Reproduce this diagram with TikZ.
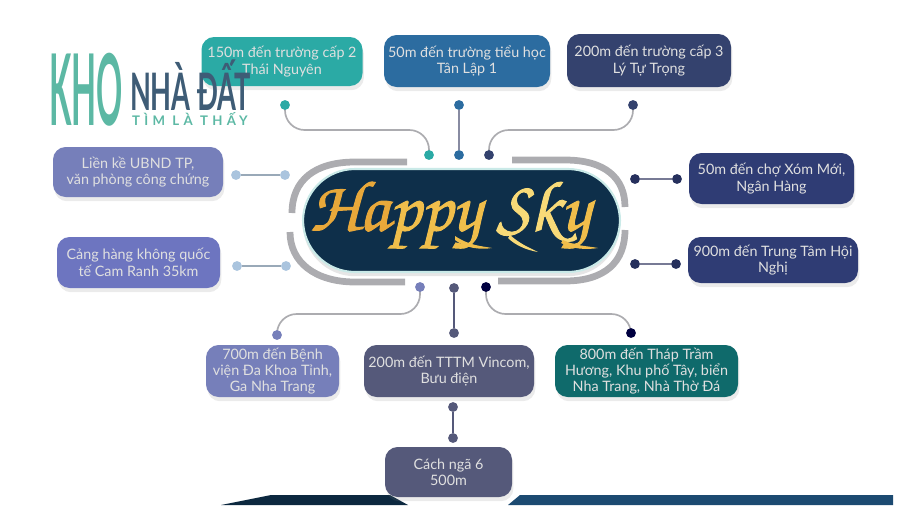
\documentclass[tikz,border=0pt]{standalone}
\usepackage{fontspec}
\setmainfont{Lato}
\usetikzlibrary{positioning, calc, shadows, backgrounds}
\definecolor{tealbox}{RGB}{43, 170, 165}
\definecolor{bluebox}{RGB}{44, 108, 160}
\definecolor{navybox}{RGB}{52, 66, 110}
\definecolor{lilacbox}{RGB}{118, 127, 186}
\definecolor{indigobox}{RGB}{47, 60, 116}
\definecolor{slatebox}{RGB}{85, 89, 122}
\definecolor{pinebox}{RGB}{15, 106, 107}
\definecolor{pillblue}{RGB}{14, 47, 74}
\definecolor{ringgray}{RGB}{172, 172, 176}
\definecolor{logoteal}{RGB}{92, 184, 164}
\definecolor{logoslate}{RGB}{62, 92, 118}
\definecolor{palelink}{RGB}{170, 196, 222}
\definecolor{goldone}{RGB}{232, 168, 58}
\definecolor{goldtwo}{RGB}{240, 190, 75}
\definecolor{goldthree}{RGB}{248, 218, 120}
\newcommand{\goldtext}[2]{\textcolor{#1}{#2}}
\tikzset{
  infobox/.style={rounded corners=9pt, text=white!88!black, align=center, inner sep=0pt,
    font=\fontsize{10.2}{11.6}\selectfont, drop shadow={opacity=.16, shadow xshift=1pt, shadow yshift=-3pt}},
  linkdot/.style={circle, minimum size=7pt, inner sep=0pt, fill=#1},
  link/.style={draw=#1, line width=1.2pt, rounded corners=14pt},
  ringarc/.style={draw=ringgray, line width=4.8pt},
}
\begin{document}
\begin{tikzpicture}[x=0.025cm, y=-0.025cm]
  \useasboundingbox (0, 0) rectangle (900, 521);

  % strip behind the last box
  \fill[pillblue!85!black] (221, 505) -- (271, 495) -- (390, 495) -- (408, 505) -- cycle;
  \fill[bluebox!45!pillblue] (508, 505) -- (520, 495) -- (893, 495) -- (893, 505) -- cycle;

  % centre
  \node[fill=pillblue, draw=tealbox!25!white, line width=1.5pt, rounded corners=37pt, minimum width=317*0.025cm, minimum height=103*0.025cm,
    drop shadow={opacity=.2, shadow xshift=0pt, shadow yshift=-3pt}] (pill) at (461.5, 220.5) {};
  \node[font=\fontfamily{pzc}\fontencoding{T1}\selectfont\fontsize{51}{51}\selectfont] (title) at (450, 216) {%
    \special{pdf:code 2 Tr 0.7 w}\goldtext{goldone}{H}\goldtext{goldone}{a}\goldtext{goldtwo}{p}\goldtext{goldtwo}{p}\goldtext{goldtwo}{y} \goldtext{goldthree}{S}\goldtext{goldthree}{k}\goldtext{goldtwo}{y}\special{pdf:code 0 Tr}};
  \fill[goldtwo] (455, 236) .. controls (470, 246) and (482, 246) .. (492, 248) .. controls (480, 250) and (465, 248) .. (455, 240) -- cycle;
  \fill[goldthree] (510, 235) .. controls (520, 244) and (530, 248) .. (538, 252) .. controls (526, 250) and (515, 245) .. (508, 238) -- cycle;
  \fill[goldtwo] (563, 240) .. controls (575, 246) and (588, 246) .. (598, 248) .. controls (586, 250) and (572, 249) .. (561, 243) -- cycle;

  \draw[ringarc] (407, 162) -- (355, 162) .. controls (315, 162) and (292, 180) .. (292, 213);
  \draw[ringarc] (512, 160) -- (565, 160) .. controls (605, 160) and (625, 178) .. (625, 207);
  \draw[ringarc] (290, 232) .. controls (290, 262) and (315, 282) .. (355, 282) -- (405, 282);
  \draw[ringarc] (625, 230) .. controls (625, 262) and (605, 281) .. (565, 281) -- (498, 281);

  % boxes
  \node[infobox, fill=tealbox, minimum width=161*0.025cm, minimum height=49*0.025cm] (school2) at (282, 61.5) {150m đến trường cấp 2\\Thái Nguyên};
  \node[infobox, fill=bluebox, minimum width=166*0.025cm, minimum height=52*0.025cm] (primary) at (467, 61) {50m đến trường tiểu học\\Tân Lập 1};
  \node[infobox, fill=navybox, minimum width=164*0.025cm, minimum height=53*0.025cm] (school3) at (649, 60.5) {200m đến trường cấp 3\\Lý Tự Trọng};
  \node[infobox, fill=lilacbox, minimum width=170*0.025cm, minimum height=50*0.025cm] (office) at (138, 172) {Liền kề UBND TP,\\văn phòng công chứng};
  \node[infobox, fill=lilacbox!92!blue, minimum width=163*0.025cm, minimum height=51*0.025cm] (airport) at (138.5, 262.5) {Cảng hàng không quốc\\tế Cam Ranh 35km};
  \node[infobox, fill=indigobox, minimum width=165*0.025cm, minimum height=51*0.025cm] (market) at (771.5, 178.5) {50m đến chợ Xóm Mới,\\Ngân Hàng};
  \node[infobox, fill=indigobox, minimum width=170*0.025cm, minimum height=46*0.025cm] (hall) at (773, 260) {900m đến Trung Tâm Hội\\Nghị};
  \node[infobox, fill=lilacbox, minimum width=133*0.025cm, minimum height=52*0.025cm] (hospital) at (272.5, 371) {700m đến Bệnh\\viện Đa Khoa Tỉnh,\\Ga Nha Trang};
  \node[infobox, fill=slatebox, minimum width=170*0.025cm, minimum height=52*0.025cm] (vincom) at (449, 371) {200m đến TTTM Vincom,\\Bưu điện};
  \node[infobox, fill=pinebox, minimum width=183*0.025cm, minimum height=52*0.025cm] (tower) at (646.5, 371) {800m đến Tháp Trầm\\Hương, Khu phố Tây, biển\\Nha Trang, Nhà Thờ Đá};
  \node[infobox, fill=slatebox, minimum width=127*0.025cm, minimum height=50*0.025cm] (junction) at (448.5, 472) {Cách ngã 6\\500m};

  % dots
  \node[linkdot=tealbox] (s2a) at (285, 105) {};
  \node[linkdot=tealbox] (s2b) at (429, 155) {};
  \node[linkdot=bluebox] (pra) at (459, 105) {};
  \node[linkdot=bluebox] (prb) at (459, 155) {};
  \node[linkdot=navybox] (s3a) at (633, 105) {};
  \node[linkdot=navybox] (s3b) at (489, 155) {};
  \node[linkdot=palelink] (ofa) at (236, 175) {};
  \node[linkdot=palelink] (ofb) at (285, 175) {};
  \node[linkdot=palelink] (aia) at (237, 266) {};
  \node[linkdot=palelink] (aib) at (286, 266) {};
  \node[linkdot=indigobox!80!black] (maa) at (635, 179) {};
  \node[linkdot=indigobox!80!black] (mab) at (677, 179) {};
  \node[linkdot=indigobox!80!black] (haa) at (635, 264) {};
  \node[linkdot=indigobox!80!black] (hab) at (676, 264) {};
  \node[linkdot=lilacbox] (hoa) at (420, 287) {};
  \node[linkdot=lilacbox] (hob) at (277, 335) {};
  \node[linkdot=slatebox] (via) at (454, 288) {};
  \node[linkdot=slatebox] (vib) at (454, 333) {};
  \node[linkdot=black!75!blue] (toa) at (486, 287) {};
  \node[linkdot=black!75!blue] (tob) at (631, 333) {};
  \node[linkdot=slatebox] (jua) at (453, 407) {};
  \node[linkdot=slatebox] (jub) at (453, 438) {};

  % connectors
  \coordinate (s2c) at (350, 130);
  \coordinate (s3c) at (560, 130);
  \coordinate (hoc) at (350, 314);
  \coordinate (toc) at (560, 314);
  \begin{scope}[on background layer]
    \draw[link=ringgray] (s2a.center) |- (s2c) -| (s2b.center);
    \draw[link=ringgray] (s3a.center) |- (s3c) -| (s3b.center);
    \draw[link=ringgray] (hob.center) |- (hoc) -| (hoa.center);
    \draw[link=ringgray] (tob.center) |- (toc) -| (toa.center);
    \draw[link=slatebox!70] (pra) -- (prb);
    \draw[link=palelink!60!gray] (ofa) -- (ofb);
    \draw[link=palelink!60!gray] (aia) -- (aib);
    \draw[link=slatebox!80] (maa) -- (mab);
    \draw[link=slatebox!80] (haa) -- (hab);
    \draw[link=slatebox] (via) -- (vib);
    \draw[link=slatebox] (jua) -- (jub);
  \end{scope}

  % logo
  \node[anchor=base, text=logoteal, font=\bfseries\fontsize{34}{34}\selectfont, xscale=.68, yscale=2.07] (logokho) at (86, 125) {KHO};
  \node[anchor=base, text=logoslate, font=\bfseries\fontsize{21}{21}\selectfont, xscale=.92, yscale=1.75] (logonha) at (190.5, 110) {NHÀ ĐẤT};
  \node[anchor=base, text=logoteal, font=\bfseries\fontsize{9.4}{9.4}\selectfont\addfontfeature{LetterSpace=32}] (logotag) at (190, 125) {TÌM LÀ THẤY};
\end{tikzpicture}
\end{document}
